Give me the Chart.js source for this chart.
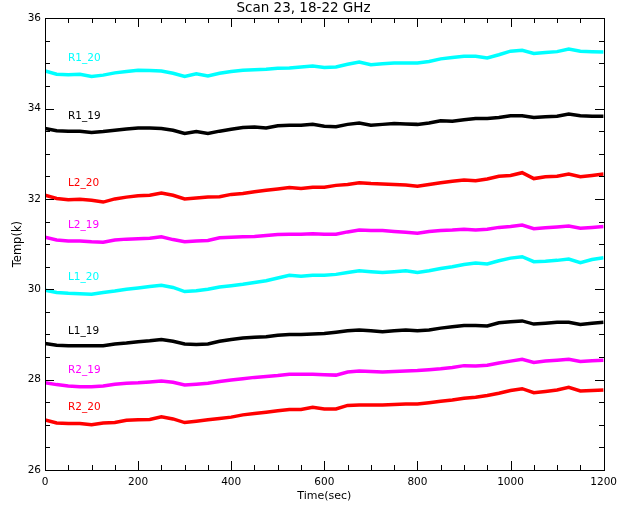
<!DOCTYPE html>
<html>
<head>
<meta charset="utf-8">
<script src="https://cdn.jsdelivr.net/npm/chart.js@4.4.1/dist/chart.umd.min.js"></script>
<style>
  html, body { margin: 0; padding: 0; background: #fff; }
  #wrap { width: 623px; height: 506px; }
</style>
</head>
<body>
<div id="wrap"><canvas id="scanChart"></canvas></div>
<script>
// time axis (sec), one reading every 25 s
var times = [0, 25, 50, 75, 100, 125, 150, 175, 200, 225, 250, 275, 300, 325, 350, 375, 400,
  425, 450, 475, 500, 525, 550, 575, 600, 625, 650, 675, 700, 725, 750, 775, 800,
  825, 850, 875, 900, 925, 950, 975, 1000, 1025, 1050, 1075, 1100, 1125, 1150, 1175, 1200]

var r1_20 = [34.83, 34.76, 34.75, 34.76, 34.71, 34.74, 34.79, 34.82, 34.85, 34.84, 34.83, 34.78, 34.71, 34.77, 34.72, 34.78, 34.82,
  34.85, 34.86, 34.87, 34.89, 34.90, 34.92, 34.94, 34.91, 34.92, 34.98, 35.03, 34.97, 34.99, 35.01, 35.01, 35.01,
  35.04, 35.10, 35.13, 35.16, 35.16, 35.12, 35.19, 35.27, 35.29, 35.22, 35.24, 35.26, 35.32, 35.27, 35.26, 35.25]
var r1_19 = [33.56, 33.51, 33.50, 33.50, 33.47, 33.49, 33.52, 33.55, 33.57, 33.57, 33.56, 33.52, 33.45, 33.49, 33.45, 33.50, 33.54,
  33.58, 33.59, 33.57, 33.62, 33.63, 33.63, 33.65, 33.61, 33.60, 33.65, 33.68, 33.63, 33.65, 33.67, 33.66, 33.65,
  33.68, 33.73, 33.72, 33.75, 33.78, 33.78, 33.80, 33.84, 33.84, 33.80, 33.82, 33.83, 33.88, 33.84, 33.83, 33.83]
var l2_20 = [32.08, 32.01, 31.98, 31.99, 31.97, 31.93, 32.00, 32.04, 32.07, 32.08, 32.13, 32.08, 32.00, 32.02, 32.04, 32.05, 32.10,
  32.12, 32.16, 32.19, 32.22, 32.25, 32.23, 32.26, 32.26, 32.30, 32.32, 32.36, 32.34, 32.33, 32.32, 32.31, 32.28,
  32.32, 32.36, 32.39, 32.42, 32.40, 32.44, 32.50, 32.52, 32.58, 32.45, 32.49, 32.50, 32.55, 32.49, 32.52, 32.55]
var l2_19 = [31.15, 31.09, 31.07, 31.07, 31.05, 31.04, 31.09, 31.11, 31.12, 31.13, 31.16, 31.10, 31.05, 31.07, 31.08, 31.14, 31.15,
  31.16, 31.17, 31.19, 31.21, 31.22, 31.22, 31.23, 31.22, 31.22, 31.27, 31.31, 31.30, 31.30, 31.28, 31.26, 31.24,
  31.28, 31.30, 31.31, 31.33, 31.31, 31.33, 31.37, 31.39, 31.42, 31.34, 31.36, 31.38, 31.40, 31.35, 31.37, 31.39]
var l1_20 = [29.98, 29.93, 29.91, 29.90, 29.89, 29.93, 29.96, 30.00, 30.03, 30.06, 30.09, 30.04, 29.95, 29.97, 30.00, 30.05, 30.08,
  30.11, 30.15, 30.19, 30.25, 30.31, 30.29, 30.31, 30.31, 30.33, 30.37, 30.41, 30.39, 30.37, 30.39, 30.41, 30.37,
  30.41, 30.46, 30.50, 30.55, 30.58, 30.56, 30.63, 30.69, 30.72, 30.61, 30.62, 30.64, 30.67, 30.59, 30.66, 30.70]
var l1_19 = [28.80, 28.76, 28.75, 28.75, 28.75, 28.75, 28.79, 28.81, 28.84, 28.86, 28.89, 28.85, 28.79, 28.78, 28.79, 28.85, 28.89,
  28.92, 28.94, 28.95, 28.98, 29.00, 29.00, 29.01, 29.02, 29.05, 29.08, 29.10, 29.08, 29.06, 29.08, 29.10, 29.08,
  29.10, 29.14, 29.17, 29.20, 29.20, 29.19, 29.26, 29.28, 29.30, 29.23, 29.25, 29.27, 29.27, 29.22, 29.25, 29.27]
var r2_19 = [27.93, 27.89, 27.86, 27.84, 27.84, 27.86, 27.90, 27.92, 27.93, 27.95, 27.97, 27.94, 27.88, 27.90, 27.92, 27.96, 27.99,
  28.02, 28.05, 28.07, 28.09, 28.12, 28.12, 28.12, 28.11, 28.10, 28.17, 28.19, 28.18, 28.17, 28.18, 28.19, 28.20,
  28.22, 28.24, 28.27, 28.31, 28.30, 28.32, 28.37, 28.41, 28.45, 28.38, 28.41, 28.43, 28.45, 28.40, 28.42, 28.43]
var r2_20 = [27.11, 27.04, 27.03, 27.03, 27.00, 27.04, 27.05, 27.10, 27.11, 27.12, 27.18, 27.13, 27.05, 27.08, 27.11, 27.14, 27.17,
  27.22, 27.25, 27.28, 27.31, 27.34, 27.34, 27.39, 27.35, 27.35, 27.43, 27.44, 27.44, 27.44, 27.45, 27.46, 27.46,
  27.49, 27.52, 27.55, 27.59, 27.61, 27.65, 27.70, 27.76, 27.80, 27.71, 27.74, 27.77, 27.83, 27.75, 27.76, 27.77]

var seriesNames = ['R1_20', 'R1_19', 'L2_20', 'L2_19', 'L1_20', 'L1_19', 'R2_19', 'R2_20']
var seriesValues = [r1_20, r1_19, l2_20, l2_19, l1_20, l1_19, r2_19, r2_20]
var seriesColors = ['#00ffff', '#000000', '#ff0000', '#ff00ff', '#00ffff', '#000000', '#ff00ff', '#ff0000']

var FONT = '"DejaVu Sans", sans-serif'

var datasets = seriesValues.map(function (vals, i) {
  return {
    label: seriesNames[i],
    data: times.map(function (t, j) { return { x: t, y: vals[j] } }),
    borderColor: seriesColors[i],
    borderWidth: 3.5,
    pointRadius: 0,
    tension: 0,
    fill: false,
  }
})

// IDL style box with inward major/minor ticks, plus series labels
var framePlugin = {
  id: 'frame',
  afterDraw: function (chart) {
    var ctx = chart.ctx
    var a = chart.chartArea
    var xs = chart.scales.x
    var ys = chart.scales.y
    var L = Math.round(a.left), R = Math.round(a.right)
    var T = Math.round(a.top), B = Math.round(a.bottom)
    ctx.save()
    ctx.fillStyle = '#000'
    ctx.fillRect(L, T, R - L + 1, 1)
    ctx.fillRect(L, B, R - L + 1, 1)
    ctx.fillRect(L, T, 1, B - T + 1)
    ctx.fillRect(R, T, 1, B - T + 1)

    var v, p, len
    for (v = xs.min; v <= xs.max + 0.01; v += 50) {
      p = Math.round(xs.getPixelForValue(v))
      len = v % 200 === 0 ? 9 : 5
      ctx.fillRect(p, B - len, 1, len)
      ctx.fillRect(p, T, 1, len)
    }
    for (v = ys.min; v <= ys.max + 0.001; v += 0.5) {
      p = Math.round(ys.getPixelForValue(v))
      len = Math.abs(v % 2) < 0.001 ? 9 : 5
      ctx.fillRect(L, p, len, 1)
      ctx.fillRect(R - len, p, len, 1)
    }

    ctx.font = '10.5px ' + FONT
    ctx.textAlign = 'left'
    ctx.textBaseline = 'middle'
    seriesValues.forEach(function (vals, i) {
      ctx.fillStyle = seriesColors[i]
      ctx.fillText(seriesNames[i], L + 23, ys.getPixelForValue(vals[0]) - 12.5)
    })
    ctx.restore()
  },
}

new Chart(document.getElementById('scanChart'), {
  type: 'line',
  data: { datasets: datasets },
  options: {
    responsive: true,
    maintainAspectRatio: false,
    devicePixelRatio: 1,
    animation: false,
    layout: { padding: { left: 0, right: 16, top: 0, bottom: 0 } },
    plugins: {
      legend: { display: false },
      tooltip: { enabled: false },
      title: {
        display: true,
        text: 'Scan 23, 18-22 GHz',
        color: '#000',
        font: { family: FONT, size: 13.5, weight: 'normal' },
        padding: { top: 0, bottom: 2 },
      },
    },
    scales: {
      x: {
        type: 'linear',
        min: 0,
        max: 1200,
        ticks: {
          stepSize: 200, color: '#000', font: { family: FONT, size: 10.5 }, padding: 6, maxRotation: 0,
          callback: function (v) { return String(v) },
        },
        grid: { display: false, drawTicks: false },
        border: { display: false },
        title: { display: true, text: 'Time(sec)', color: '#000', font: { family: FONT, size: 11 }, padding: { top: 0, bottom: 3 } },
        afterFit: function (s) { s.height = 36 },
      },
      y: {
        min: 26,
        max: 36,
        ticks: { stepSize: 2, color: '#000', font: { family: FONT, size: 10.5 }, padding: 4 },
        grid: { display: false, drawTicks: false },
        border: { display: false },
        title: { display: true, text: 'Temp(k)', color: '#000', font: { family: FONT, size: 11.5 }, padding: { top: 11, bottom: 0 } },
        afterFit: function (s) { s.width = 45 },
      },
    },
  },
  plugins: [framePlugin],
})
</script>
</body>
</html>
